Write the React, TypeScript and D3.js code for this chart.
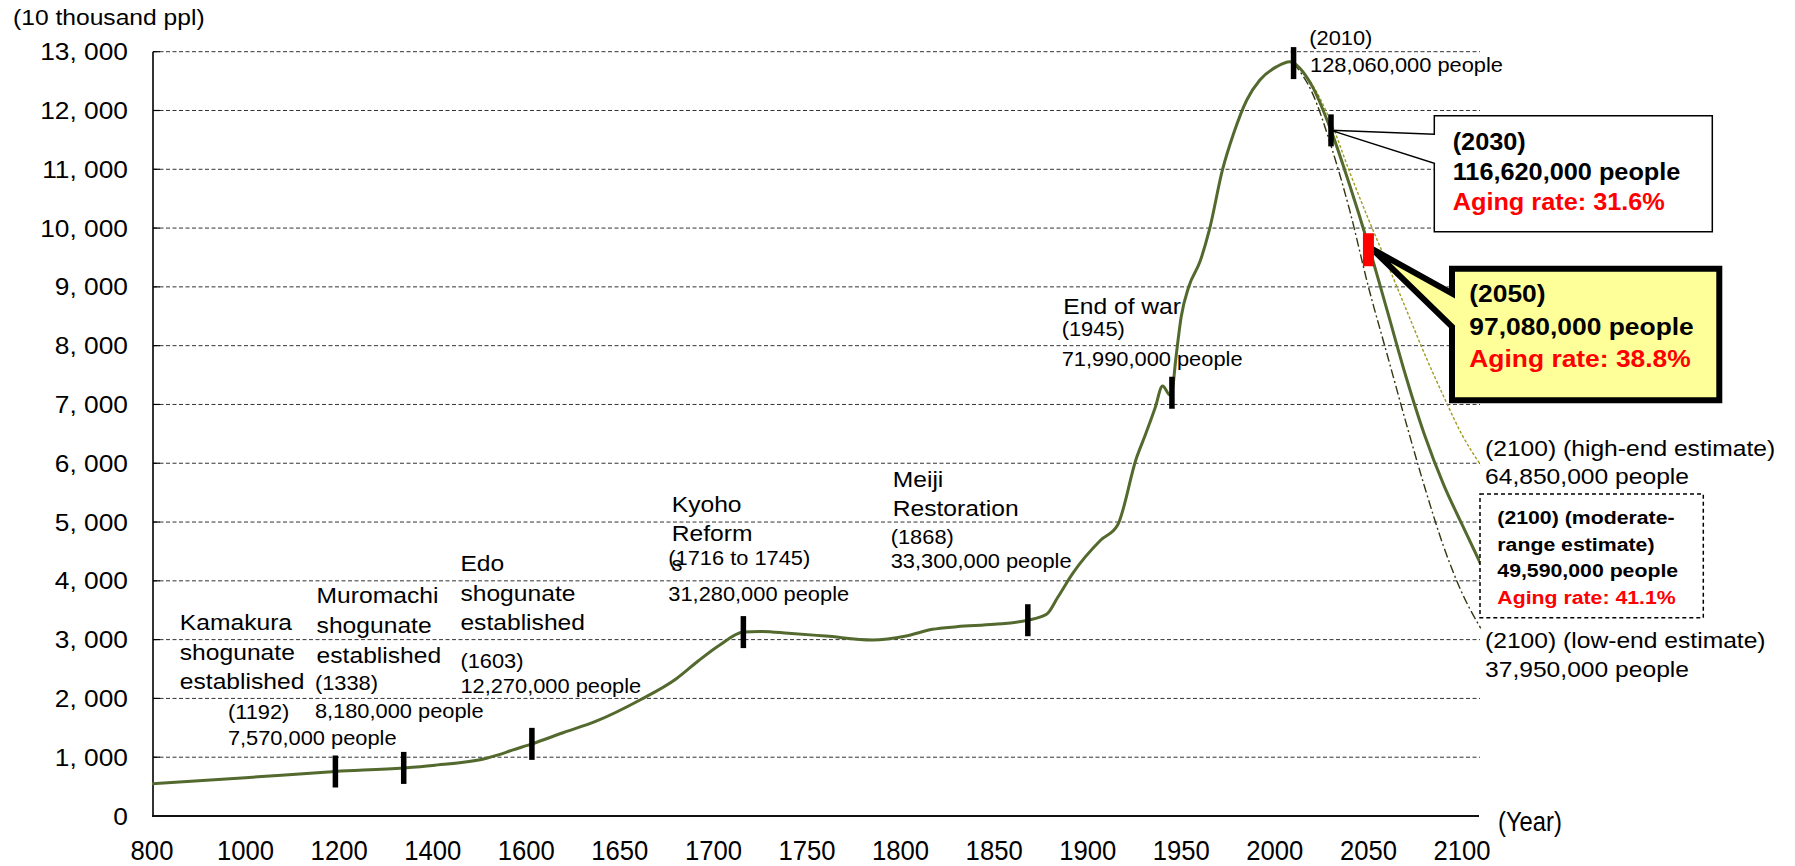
import React from "react";
import * as d3 from "d3";

// Population of Japan, unit: 10 thousand people
const histYears = [
  800, 1000, 1192, 1338, 1400, 1515, 1540, 1570, 1603, 1620, 1637, 1661, 1680, 1692,
  1703, 1716, 1725, 1740, 1760, 1785, 1803, 1817, 1830, 1850, 1868, 1878, 1884, 1892,
  1907, 1916, 1926, 1931, 1936, 1940, 1944, 1945, 1947, 1950, 1954, 1960, 1965, 1972,
  1978, 1985, 1992, 2001, 2008, 2010,
];
const histValues = [
  550, 652, 757, 818, 860, 983, 1040, 1120, 1227, 1420, 1608, 1977, 2330, 2640,
  2900, 3128, 3140, 3110, 3060, 2994, 3062, 3175, 3220, 3260, 3330, 3430, 3720, 4128,
  4695, 4950, 6084, 6500, 6940, 7313, 7160, 7199, 7756, 8500, 9003, 9430, 9968, 10988,
  11612, 12179, 12519, 12746, 12830, 12806,
];

// Projections from 2010
const projYears = [2010, 2020, 2030, 2040, 2050, 2060, 2070, 2080, 2090, 2100, 2110];
const moderateValues = [12806, 12410, 11662, 10728, 9708, 8600, 7480, 6480, 5650, 4959, 4286];
const highValues = [12806, 12440, 11800, 10950, 10150, 9400, 8630, 7860, 7150, 6485, 5970];
const lowValues = [12806, 12300, 11400, 10300, 9000, 7850, 6700, 5600, 4600, 3795, 3193];

// Milestones marked on the curve
const milestoneYears = [1192, 1338, 1603, 1716, 1868, 1945, 2010, 2030];
const milestoneValues = [757, 818, 1227, 3128, 3330, 7199, 12806, 11662];
const highlightYear = 2050;
const highlightValue = 9708;

// Axis ticks
const xTickYears = [800, 1000, 1200, 1400, 1600, 1650, 1700, 1750, 1800, 1850, 1900, 1950, 2000, 2050, 2100];
const xDomainEnd = 2110;
const yTickValues = [0, 1000, 2000, 3000, 4000, 5000, 6000, 7000, 8000, 9000, 10000, 11000, 12000, 13000];

const W = 1795;
const H = 866;
const FONT = "'Liberation Sans', Arial, Helvetica, sans-serif";

const plotLeft = 152;
const plotRight = 1480;
const firstLabelX = 152;
const lastLabelX = 1462;
const step = (lastLabelX - firstLabelX) / (xTickYears.length - 1);

// piecewise axis: evenly spaced labels, last segment runs on to 2110
const xDomain = [...xTickYears, xDomainEnd];
const xRange = [
  ...xTickYears.map((_, i) => firstLabelX + i * step),
  lastLabelX + (step * (xDomainEnd - 2100)) / 50,
];
const x = d3.scaleLinear().domain(xDomain).range(xRange);
const y = d3.scaleLinear().domain([0, 13000]).range([816, 51.7]);

type TProps = {
  x: number;
  y: number;
  size: number;
  sx?: number;
  weight?: string;
  fill?: string;
  anchor?: "start" | "middle" | "end";
  children: React.ReactNode;
};

function T({ x: tx, y: ty, size, sx = 1.12, weight = "normal", fill = "#000", anchor = "start", children }: TProps) {
  return (
    <text
      transform={`translate(${tx},${ty}) scale(${sx},1)`}
      fontSize={size}
      fontWeight={weight}
      fill={fill}
      textAnchor={anchor}
      fontFamily={FONT}
    >
      {children}
    </text>
  );
}

const fmtY = (v: number) => (v === 0 ? "0" : d3.format(",")(v).replace(",", ", "));

export default function App() {
  const line = d3
    .line<[number, number]>()
    .x((d) => x(d[0]))
    .y((d) => y(d[1]))
    .curve(d3.curveMonotoneX);

  const mainPts: [number, number][] = [
    ...histYears.map((yr, i) => [yr, histValues[i]] as [number, number]),
    ...projYears.slice(1).map((yr, i) => [yr, moderateValues[i + 1]] as [number, number]),
  ];
  const highPts = projYears.map((yr, i) => [yr, highValues[i]] as [number, number]);
  const lowPts = projYears.map((yr, i) => [yr, lowValues[i]] as [number, number]);

  const tip30 = [x(2030), y(moderateValues[2])];
  const tip50 = [x(highlightYear), y(highlightValue)];

  // callout outlines
  const c30 = { l: 1434.3, r: 1712.3, t: 115.7, b: 231.7, w1: 134.3, w2: 163.3 };
  const call30 = `M${c30.l},${c30.t}H${c30.r}V${c30.b}H${c30.l}V${c30.w2}L${tip30[0]},${tip30[1]}L${c30.l},${c30.w1}Z`;
  const c50 = { l: 1452, r: 1719.3, t: 268.7, b: 400.3, w1: 293.3, w2: 326.7 };
  const call50 = `M${c50.l},${c50.t}H${c50.r}V${c50.b}H${c50.l}V${c50.w2}L${tip50[0] + 4},${tip50[1] + 4}L${c50.l},${c50.w1}Z`;

  return (
    <svg
      width={W}
      height={H}
      viewBox={`0 0 ${W} ${H}`}
      style={{ position: "absolute", left: 0, top: 0, display: "block", background: "#fff" }}
      fontFamily={FONT}
    >
      <rect x={0} y={0} width={W} height={H} fill="#fff" />

      {/* grid */}
      {yTickValues.filter((v) => v > 0).map((v) => (
        <g key={`g${v}`}>
          <line x1={plotLeft + 1} x2={plotRight} y1={y(v)} y2={y(v)} stroke="#333" strokeWidth={1} strokeDasharray="4,2.5" />
          <line x1={plotLeft + 1} x2={plotLeft + 8} y1={y(v)} y2={y(v)} stroke="#000" strokeWidth={1.2} />
        </g>
      ))}

      {/* axes */}
      <line x1={153} x2={153} y1={y(13000)} y2={y(0)} stroke="#000" strokeWidth={1.6} />
      <line x1={plotLeft} x2={plotRight - 1} y1={y(0)} y2={y(0)} stroke="#111" strokeWidth={2} />

      {yTickValues.map((v) => (
        <T key={`yl${v}`} x={128} y={y(v) + 8.5} size={23.5} anchor="end">
          {fmtY(v)}
        </T>
      ))}
      <T x={13} y={25} size={22}>(10 thousand ppl)</T>

      {xTickYears.map((yr) => (
        <T key={`xl${yr}`} x={x(yr)} y={860} size={28.5} sx={0.9} anchor="middle">
          {yr}
        </T>
      ))}
      <T x={1498} y={831} size={27} sx={0.88}>(Year)</T>

      {/* projections */}
      <path d={line(highPts) || ""} fill="none" stroke="#a19c1c" strokeWidth={1.4} strokeDasharray="3,2" />
      <path d={line(lowPts) || ""} fill="none" stroke="#35350f" strokeWidth={1.4} strokeDasharray="9,3,2,3" />
      <path d={line(mainPts) || ""} fill="none" stroke="#53692e" strokeWidth={3} strokeLinejoin="round" />

      {/* milestone marks */}
      {milestoneYears.map((yr, i) => (
        <rect key={`m${yr}`} x={x(yr) - 2.75} y={y(milestoneValues[i]) - 16} width={5.5} height={32} fill="#000" />
      ))}

      {/* 2030 callout */}
      <path d={call30} fill="#fff" stroke="#000" strokeWidth={1.5} strokeLinejoin="miter" />
      <T x={1452.7} y={150} size={23} sx={1.1} weight="bold">(2030)</T>
      <T x={1452.7} y={180} size={23} sx={1.1} weight="bold">116,620,000 people</T>
      <T x={1452.7} y={210} size={23} sx={1.1} weight="bold" fill="#ff0000">Aging rate: 31.6%</T>

      {/* 2050 callout */}
      <path d={call50} fill="#ffff99" stroke="#000" strokeWidth={6} strokeLinejoin="miter" strokeMiterlimit={3} />
      <rect x={tip50[0] - 5.5} y={tip50[1] - 12} width={11} height={33} fill="#ff0000" />
      <T x={1469.3} y={302.3} size={24} sx={1.1} weight="bold">(2050)</T>
      <T x={1469.3} y={335} size={24} sx={1.1} weight="bold">97,080,000 people</T>
      <T x={1469.3} y={367} size={24} sx={1.1} weight="bold" fill="#ff0000">Aging rate: 38.8%</T>

      {/* 2100 estimates */}
      <T x={1485} y={456} size={22}>(2100) (high-end estimate)</T>
      <T x={1485} y={484} size={22}>64,850,000 people</T>
      <rect x={1480} y={494} width={223.3} height={123.7} fill="#fff" stroke="#000" strokeWidth={1.5} strokeDasharray="4,3" />
      <T x={1497.3} y={524} size={19} weight="bold">(2100) (moderate-</T>
      <T x={1497.3} y={550.5} size={19} weight="bold">range estimate)</T>
      <T x={1497.3} y={577.3} size={19} weight="bold">49,590,000 people</T>
      <T x={1497.3} y={604} size={19} weight="bold" fill="#ff0000">Aging rate: 41.1%</T>
      <T x={1485} y={647.7} size={22}>(2100) (low-end estimate)</T>
      <T x={1485} y={676.7} size={22}>37,950,000 people</T>

      {/* 2010 peak */}
      <T x={1309.3} y={45} size={19.5}>(2010)</T>
      <T x={1310} y={71.7} size={19.5}>128,060,000 people</T>

      {/* end of war */}
      <T x={1063.3} y={314.3} size={22}>End of war</T>
      <T x={1061.7} y={336} size={19.5}>(1945)</T>
      <T x={1061.7} y={366} size={19.5}>71,990,000 people</T>

      {/* Meiji */}
      <T x={892.7} y={486.7} size={22}>Meiji</T>
      <T x={892.7} y={516} size={22}>Restoration</T>
      <T x={890.7} y={544} size={19.5}>(1868)</T>
      <T x={890.7} y={568.3} size={19.5}>33,300,000 people</T>

      {/* Kyoho */}
      <T x={671.7} y={511.7} size={22}>Kyoho</T>
      <T x={671.7} y={541} size={22}>Reform</T>
      <T x={668.3} y={564.5} size={19.5}>(1716 to 1745)</T>
      <T x={671.5} y={571} size={19.5}>s</T>
      <T x={668.3} y={600.7} size={19.5}>31,280,000 people</T>

      {/* Edo */}
      <T x={460.4} y={570.7} size={22}>Edo</T>
      <T x={460.4} y={601} size={22}>shogunate</T>
      <T x={460.4} y={630} size={22}>established</T>
      <T x={460.4} y={667.7} size={19.5}>(1603)</T>
      <T x={460.4} y={692.7} size={19.5}>12,270,000 people</T>

      {/* Muromachi */}
      <T x={316.6} y={603.3} size={22}>Muromachi</T>
      <T x={316.6} y={632.7} size={22}>shogunate</T>
      <T x={316.6} y={662.7} size={22}>established</T>
      <T x={314.9} y={690} size={19.5}>(1338)</T>
      <T x={314.9} y={718.3} size={19.5}>8,180,000 people</T>

      {/* Kamakura */}
      <T x={179.8} y={630} size={22}>Kamakura</T>
      <T x={179.8} y={660} size={22}>shogunate</T>
      <T x={179.8} y={689.3} size={22}>established</T>
      <T x={227.9} y={719.3} size={19.5}>(1192)</T>
      <T x={227.9} y={745} size={19.5}>7,570,000 people</T>
    </svg>
  );
}
